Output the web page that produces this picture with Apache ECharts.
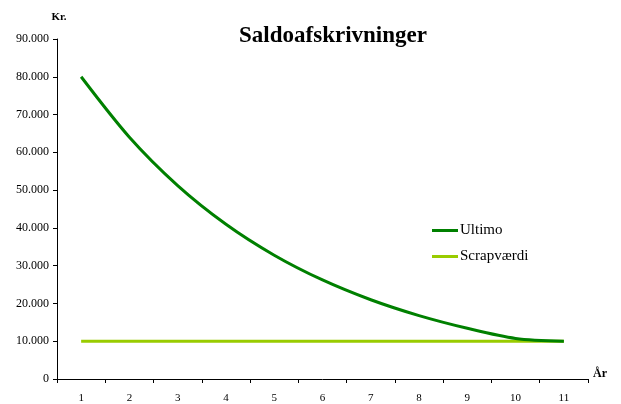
<!DOCTYPE html>
<html><head><meta charset="utf-8">
<script src="https://cdn.jsdelivr.net/npm/echarts@6/dist/echarts.min.js"></script>
<style>html,body{margin:0;padding:0;background:#fff}#c{width:621px;height:404px}</style>
</head><body><div id="c"></div>
<script>
const years = ['1','2','3','4','5','6','7','8','9','10','11'];
const ultimo = [80000, 64000, 51200, 40960, 32768, 26214, 20972, 16777, 13422, 10737, 10000];
const scrap = [10000, 10000, 10000, 10000, 10000, 10000, 10000, 10000, 10000, 10000, 10000];

const F = '"Liberation Serif", "Times New Roman", serif';
function fmt(v){ return String(v).replace(/\B(?=(\d{3})+(?!\d))/g, '.'); }

const chart = echarts.init(document.getElementById('c'));
chart.setOption({
  animation: false,
  title: { text: 'Saldoafskrivninger', left: 328, textAlign: 'center', top: 20,
    textStyle: { fontFamily: F, fontSize: 23, fontWeight: 'bold', color: '#000' } },
  legend: { orient: 'vertical', left: 427, top: 218, itemWidth: 26, itemHeight: 3, itemGap: 11,
    icon: 'rect', textStyle: { fontFamily: F, fontSize: 15, color: '#000', padding: [0,0,0,-3] },
    data: ['Ultimo', 'Scrapværdi'] },
  grid: { left: 57, right: 33, top: 39, bottom: 23, containLabel: false },
  xAxis: {
    type: 'category', data: years, boundaryGap: true,
    name: 'År', nameLocation: 'end', nameGap: 5,
    nameTextStyle: { fontFamily: F, fontSize: 12, fontWeight: 'bold', color: '#000', verticalAlign: 'bottom', padding: [0,0,-1,0] },
    axisLine: { lineStyle: { color: '#000', width: 1 } },
    axisTick: { show: true, length: 4, alignWithLabel: false, lineStyle: { color: '#000' } },
    axisLabel: { fontFamily: F, fontSize: 11, color: '#000', margin: 14 },
    splitLine: { show: false }
  },
  yAxis: {
    type: 'value', min: 0, max: 90000, interval: 10000,
    name: 'Kr.', nameLocation: 'end', nameGap: 16,
    nameTextStyle: { fontFamily: F, fontSize: 11, fontWeight: 'bold', color: '#000', align: 'center', padding: [0, 0, 0, 4] },
    axisLine: { show: true, lineStyle: { color: '#000', width: 1 } },
    axisTick: { show: true, length: 4, lineStyle: { color: '#000' } },
    axisLabel: { fontFamily: F, fontSize: 12, color: '#000', margin: 8, formatter: v => fmt(v) },
    splitLine: { show: false }
  },
  series: [
    { name: 'Scrapværdi', type: 'line', data: scrap, symbol: 'none', z: 2,
      lineStyle: { color: '#99CC00', width: 3 }, itemStyle: { color: '#99CC00' } },
    { name: 'Ultimo', type: 'line', data: ultimo, symbol: 'none', smooth: 0.3, z: 3,
      lineStyle: { color: '#008000', width: 3 }, itemStyle: { color: '#008000' } }
  ]
});
</script></body></html>
